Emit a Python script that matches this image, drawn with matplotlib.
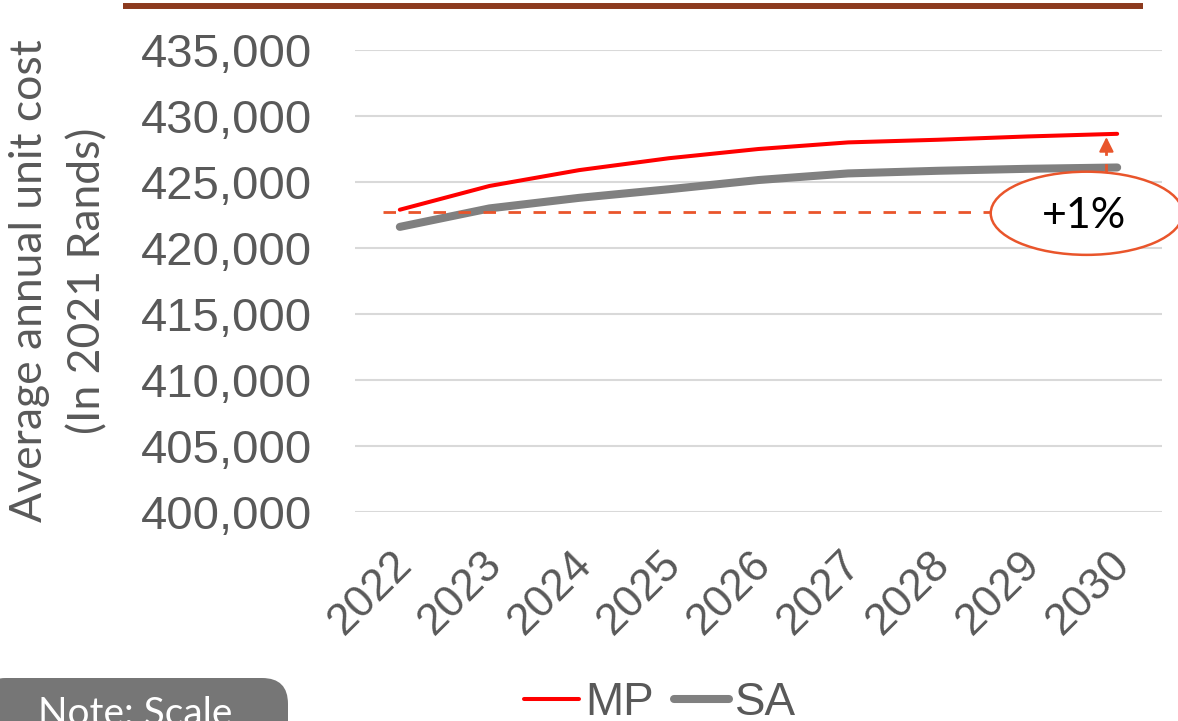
import matplotlib
matplotlib.use("Agg")
import matplotlib.pyplot as plt
from matplotlib.patches import Ellipse, FancyBboxPatch
from matplotlib.lines import Line2D
from matplotlib.transforms import ScaledTranslation
from matplotlib.ticker import FuncFormatter

# Data
years = ["2022", "2023", "2024", "2025", "2026", "2027", "2028", "2029", "2030"]
mp_cost = [422900, 424700, 425900, 426800, 427500, 428000, 428200, 428450, 428650]
sa_cost = [421600, 423000, 423800, 424450, 425150, 425650, 425850, 426000, 426100]
baseline_cost = 422700
y_ticks = [400000, 405000, 410000, 415000, 420000, 425000, 430000, 435000]
change_label = "+1%"

TEXT_GREY = "#595959"
ACCENT = "#E9552B"

fig = plt.figure(figsize=(11.78, 7.21), dpi=100)
W, H = 1178, 721

ax = fig.add_axes([355 / W, 1 - 512 / H, 807 / W, 462 / H])
x = list(range(len(years)))

ax.plot(x, mp_cost, color="#FF0000", lw=2.9, solid_capstyle="round", zorder=3, label="MP")
ax.plot(x, sa_cost, color="#808080", lw=5.8, solid_capstyle="round", zorder=2, label="SA")

ax.set_xlim(-0.5, len(years) - 0.5)
ax.set_ylim(y_ticks[0], y_ticks[-1])
ax.set_yticks(y_ticks)
ax.yaxis.set_major_formatter(FuncFormatter(lambda v, p: f"{int(v):,}"))
ax.set_xticks(x)
ax.set_xticklabels(years)

ax.grid(axis="y", color="#D9D9D9", lw=1.5)
ax.set_axisbelow(True)
for s in ax.spines.values():
    s.set_visible(False)
ax.tick_params(axis="both", length=0)
ax.tick_params(axis="y", pad=31, labelsize=34, labelcolor=TEXT_GREY)
ax.tick_params(axis="x", pad=33, labelsize=32, labelcolor=TEXT_GREY)
for lab in ax.get_yticklabels():
    lab.set_family("Liberation Sans")
for lab in ax.get_xticklabels():
    lab.set_family("Liberation Sans")
    lab.set_rotation(45)
    lab.set_ha("right")
    lab.set_va("center")
    lab.set_rotation_mode("anchor")
    lab.set_transform(lab.get_transform() + ScaledTranslation(6 / 100, 0, fig.dpi_scale_trans))

# Callout: baseline, ellipse and arrow
ell_cx, ell_cy, ell_w, ell_h = 7.66, 422630, 2.14, 6300
ax.plot([-0.19, ell_cx - ell_w / 2], [baseline_cost, baseline_cost], color=ACCENT,
        lw=2.0, ls=(0, (4.5, 4.5)), zorder=4)
ax.add_patch(Ellipse((ell_cx, ell_cy), ell_w, ell_h, facecolor="white",
                     edgecolor=ACCENT, lw=1.8, clip_on=False, zorder=5))
ax.text(ell_cx - 0.03, ell_cy - 200, change_label, ha="center", va="center",
        fontsize=31, family="Lato", color="black", zorder=6, clip_on=False)
arrow_x = 7.88
ax.plot([arrow_x, arrow_x], [ell_cy + ell_h / 2, mp_cost[-1] - 900], color=ACCENT,
        lw=2.0, ls=(0, (3, 3)), zorder=4)
ax.annotate("", xy=(arrow_x, mp_cost[-1] - 250), xytext=(arrow_x, mp_cost[-1] - 1100),
            arrowprops=dict(arrowstyle="-|>", color=ACCENT, lw=1.5,
                            mutation_scale=22, shrinkA=0, shrinkB=0), zorder=4)

# Axis title (two lines)
fig.text(30 / W, 1 - 281 / H, "Average annual unit cost", rotation=90, ha="center",
         va="center", fontsize=32, family="Lato", color=TEXT_GREY)
fig.text(88 / W, 1 - 281 / H, "(In 2021 Rands)", rotation=90, ha="center",
         va="center", fontsize=32, family="Lato", color=TEXT_GREY)

# Top rule
fig.add_artist(Line2D([123 / W, 1143 / W], [1 - 6.3 / H, 1 - 6.3 / H],
                      color="#8C3A1E", lw=4.3, solid_capstyle="butt"))

# Legend
handles = [Line2D([], [], color="#FF0000", lw=2.9, solid_capstyle="round"),
           Line2D([], [], color="#808080", lw=5.8, solid_capstyle="round")]
leg = fig.legend(handles, ["MP", "SA"], loc="center", ncol=2,
                 bbox_to_anchor=(660 / W, 1 - 703 / H), frameon=False,
                 prop={"family": "Liberation Sans", "size": 33},
                 handlelength=1.2, handletextpad=0.12, columnspacing=0.45,
                 borderpad=0, borderaxespad=0)
for t in leg.get_texts():
    t.set_color(TEXT_GREY)

# Note box
fig.add_artist(FancyBboxPatch((-20 / W, 1 - 760 / H), 308 / W, 82 / H,
                              boxstyle="round,pad=0,rounding_size=0.022",
                              transform=fig.transFigure, facecolor="#767676",
                              edgecolor="none", mutation_aspect=W / H))
fig.text(38 / W, 1 - 696 / H, "Note: Scale", ha="left", va="top", fontsize=28,
         family="Lato", color="white")

fig.savefig("out.png", dpi=100)
